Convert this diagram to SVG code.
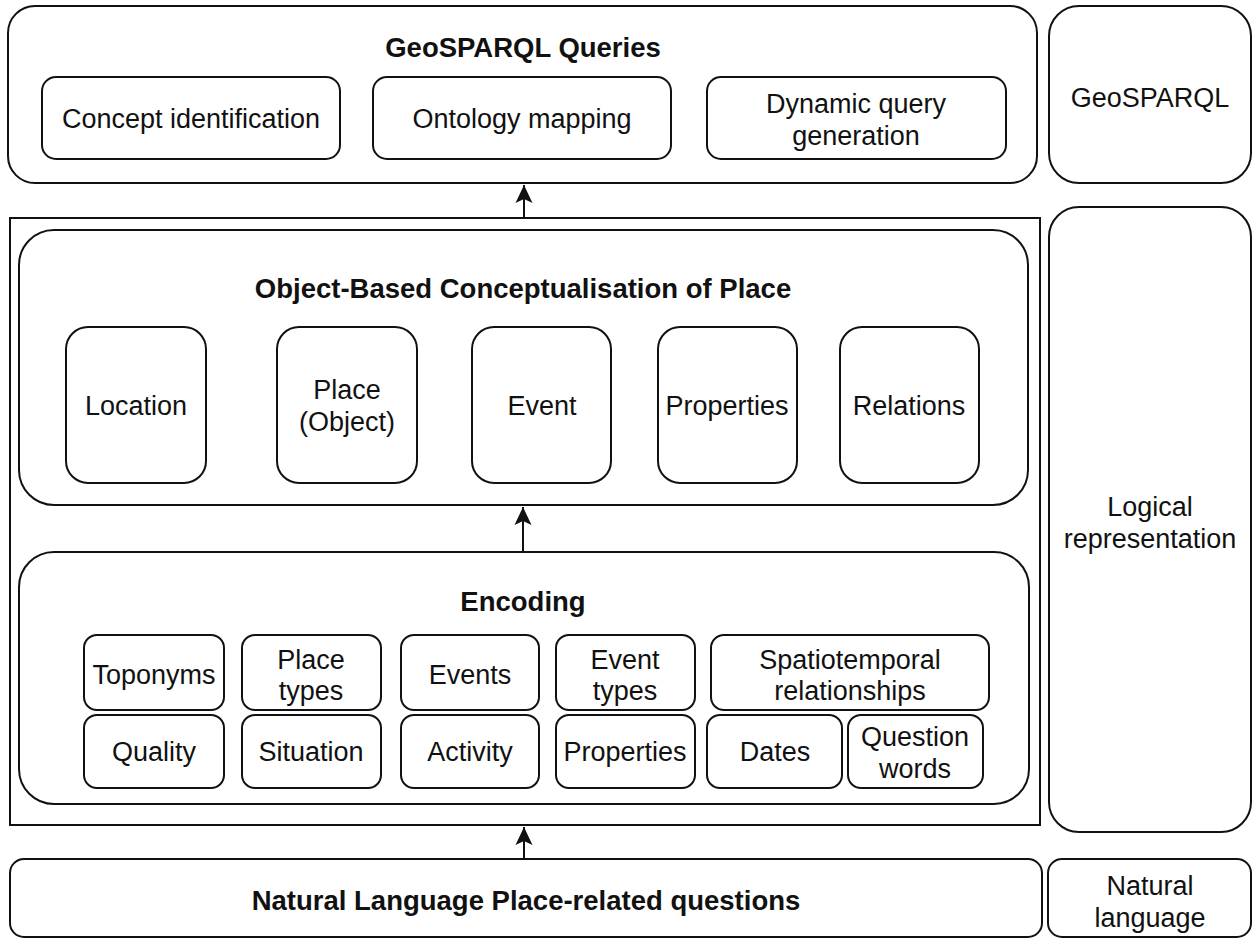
<svg xmlns="http://www.w3.org/2000/svg" width="1253" height="939" viewBox="0 0 1253 939">
<style>
.b{fill:#fff;stroke:#111;stroke-width:2}
.t{font-family:"Liberation Sans",Arial,sans-serif;font-size:27px;fill:#111;text-anchor:middle}
.h{font-weight:bold;font-size:27.5px}
.c{stroke:#111;stroke-width:2;fill:none}
</style>
<defs>
<marker id="arr" viewBox="-19 -9 20 18" refX="0" refY="0" markerWidth="20" markerHeight="18" markerUnits="userSpaceOnUse" orient="auto">
<path d="M0,0 L-18,-8.5 L-14,0 L-18,8.5 Z" fill="#111"/>
</marker>
</defs>
<rect x="0" y="0" width="1253" height="939" fill="#fff"/>

<g id="geosparql-queries">
<rect class="b" x="8" y="6" width="1029" height="177" rx="27"/>
<text class="t h" x="523" y="57">GeoSPARQL Queries</text>
</g>
<g id="concept-identification">
<rect class="b" x="42" y="77" width="298" height="82" rx="14"/>
<text class="t" x="191" y="128">Concept identification</text>
</g>
<g id="ontology-mapping">
<rect class="b" x="373" y="77" width="298" height="82" rx="14"/>
<text class="t" x="522" y="128">Ontology mapping</text>
</g>
<g id="dynamic-query-generation">
<rect class="b" x="707" y="77" width="299" height="82" rx="14"/>
<text class="t" x="856" y="113">Dynamic query</text>
<text class="t" x="856" y="145">generation</text>
</g>
<g id="geosparql-label">
<rect class="b" x="1049" y="6" width="202" height="177" rx="30"/>
<text class="t" x="1150" y="107">GeoSPARQL</text>
</g>

<g id="logical-container">
<rect x="10" y="218" width="1030" height="607" fill="none" stroke="#111" stroke-width="2"/>
</g>
<g id="object-based">
<rect class="b" x="19" y="230" width="1009" height="275" rx="35"/>
<text class="t h" x="523" y="298">Object-Based Conceptualisation of Place</text>
</g>
<g id="location">
<rect class="b" x="66" y="327" width="140" height="156" rx="22"/>
<text class="t" x="136" y="415">Location</text>
</g>
<g id="place-object">
<rect class="b" x="277" y="327" width="140" height="156" rx="22"/>
<text class="t" x="347" y="399">Place</text>
<text class="t" x="347" y="431">(Object)</text>
</g>
<g id="event">
<rect class="b" x="472" y="327" width="139" height="156" rx="22"/>
<text class="t" x="542" y="415">Event</text>
</g>
<g id="properties-obj">
<rect class="b" x="658" y="327" width="139" height="156" rx="22"/>
<text class="t" x="727" y="415">Properties</text>
</g>
<g id="relations">
<rect class="b" x="840" y="327" width="139" height="156" rx="22"/>
<text class="t" x="909" y="415">Relations</text>
</g>

<g id="encoding">
<rect class="b" x="19" y="552" width="1010" height="252" rx="35"/>
<text class="t h" x="523" y="611">Encoding</text>
</g>
<g id="toponyms">
<rect class="b" x="84" y="635" width="140" height="75" rx="13"/>
<text class="t" x="154" y="684">Toponyms</text>
</g>
<g id="place-types">
<rect class="b" x="242" y="635" width="139" height="75" rx="13"/>
<text class="t" x="311" y="669">Place</text>
<text class="t" x="311" y="700">types</text>
</g>
<g id="events">
<rect class="b" x="401" y="635" width="138" height="75" rx="13"/>
<text class="t" x="470" y="684">Events</text>
</g>
<g id="event-types">
<rect class="b" x="556" y="635" width="139" height="75" rx="13"/>
<text class="t" x="625" y="669">Event</text>
<text class="t" x="625" y="700">types</text>
</g>
<g id="spatiotemporal">
<rect class="b" x="711" y="635" width="278" height="75" rx="13"/>
<text class="t" x="850" y="669">Spatiotemporal</text>
<text class="t" x="850" y="700">relationships</text>
</g>
<g id="quality">
<rect class="b" x="84" y="715" width="140" height="73" rx="13"/>
<text class="t" x="154" y="761">Quality</text>
</g>
<g id="situation">
<rect class="b" x="242" y="715" width="139" height="73" rx="13"/>
<text class="t" x="311" y="761">Situation</text>
</g>
<g id="activity">
<rect class="b" x="401" y="715" width="138" height="73" rx="13"/>
<text class="t" x="470" y="761">Activity</text>
</g>
<g id="properties-enc">
<rect class="b" x="556" y="715" width="139" height="73" rx="13"/>
<text class="t" x="625" y="761">Properties</text>
</g>
<g id="dates">
<rect class="b" x="707" y="715" width="135" height="73" rx="13"/>
<text class="t" x="775" y="761">Dates</text>
</g>
<g id="question-words">
<rect class="b" x="848" y="715" width="135" height="73" rx="13"/>
<text class="t" x="915" y="746">Question</text>
<text class="t" x="915" y="778">words</text>
</g>

<g id="logical-representation">
<rect class="b" x="1049" y="207" width="202" height="625" rx="30"/>
<text class="t" x="1150" y="516">Logical</text>
<text class="t" x="1150" y="548">representation</text>
</g>

<g id="nl-questions">
<rect class="b" x="10" y="859" width="1032" height="78" rx="14"/>
<text class="t h" x="526" y="910">Natural Language Place-related questions</text>
</g>
<g id="natural-language">
<rect class="b" x="1048" y="859" width="203" height="78" rx="14"/>
<text class="t" x="1150" y="895">Natural</text>
<text class="t" x="1150" y="927">language</text>
</g>

<g id="connectors">
<line class="c" x1="524" y1="218" x2="524" y2="185" marker-end="url(#arr)"/>
<line class="c" x1="523" y1="552" x2="523" y2="507" marker-end="url(#arr)"/>
<line class="c" x1="524" y1="859" x2="524" y2="827" marker-end="url(#arr)"/>
</g>
</svg>
